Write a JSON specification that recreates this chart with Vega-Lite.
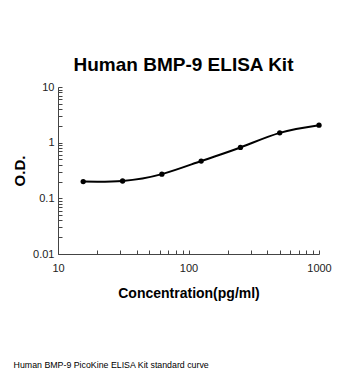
{
  "$schema": "https://vega.github.io/schema/vega-lite/v6.json",
  "width": 261,
  "height": 167,
  "autosize": "none",
  "padding": {"left": 58, "top": 87, "right": 31, "bottom": 126},
  "background": "white",
  "title": {
    "text": "Human BMP-9 PicoKine ELISA Kit standard curve",
    "orient": "bottom",
    "anchor": "start",
    "frame": "bounds",
    "offset": 61,
    "font": "Liberation Sans",
    "fontSize": 8.8,
    "fontWeight": "normal",
    "color": "black",
    "dx": 1
  },
  "data": {
    "values": [
      {"conc": 15.6, "od": 0.2},
      {"conc": 31.25, "od": 0.205},
      {"conc": 62.5, "od": 0.272},
      {"conc": 125, "od": 0.468},
      {"conc": 250, "od": 0.82},
      {"conc": 500, "od": 1.5},
      {"conc": 1000, "od": 2.06}
    ]
  },
  "config": {
    "view": {"stroke": null},
    "axis": {
      "labelFont": "Liberation Sans",
      "labelFontSize": 11,
      "labelColor": "#222",
      "titleFont": "Liberation Sans",
      "titleFontWeight": "bold",
      "titleColor": "black",
      "domainColor": "#444",
      "tickColor": "#444",
      "grid": false
    }
  },
  "resolve": {"axis": {"x": "independent"}},
  "layer": [
    {
      "mark": {"type": "line", "interpolate": "natural", "color": "black", "strokeWidth": 2},
      "encoding": {
        "x": {
          "field": "conc",
          "type": "quantitative",
          "scale": {"type": "log", "domain": [10, 1000], "nice": false},
          "axis": {
            "title": "Concentration(pg/ml)",
            "titleFontSize": 14,
            "titlePadding": 13,
            "values": [10,20,30,40,50,60,70,80,90,100,200,300,400,500,600,700,800,900,1000],
            "labelExpr": "datum.value == 10 || datum.value == 100 || datum.value == 1000 ? datum.value : ''",
            "tickSize": -4,
            "labelPadding": 12,
            "labelFlush": false
          }
        },
        "y": {
          "field": "od",
          "type": "quantitative",
          "scale": {"type": "log", "domain": [0.01, 10], "nice": false},
          "axis": {
            "title": "O.D.",
            "titleFontSize": 15,
            "titlePadding": 5,
            "values": [0.01,0.02,0.03,0.04,0.05,0.06,0.07,0.08,0.09,0.1,0.2,0.3,0.4,0.5,0.6,0.7,0.8,0.9,1,2,3,4,5,6,7,8,9,10],
            "labelExpr": "datum.value == 0.01 || datum.value == 0.1 || datum.value == 1 || datum.value == 10 ? datum.label : ''",
            "tickSize": -4,
            "labelPadding": 8,
            "labelFlush": false
          }
        }
      }
    },
    {
      "mark": {"type": "point", "filled": true, "color": "black", "opacity": 1, "size": 28},
      "encoding": {
        "x": {
          "field": "conc",
          "type": "quantitative",
          "scale": {"type": "log", "domain": [10, 1000], "nice": false},
          "axis": {
            "orient": "top",
            "title": "Human BMP-9 ELISA Kit",
            "titleFontSize": 19,
            "titlePadding": 13,
            "titleX": 125,
            "titleAlign": "center",
            "labels": false,
            "ticks": false,
            "domain": false
          }
        },
        "y": {"field": "od", "type": "quantitative"}
      }
    }
  ]
}
